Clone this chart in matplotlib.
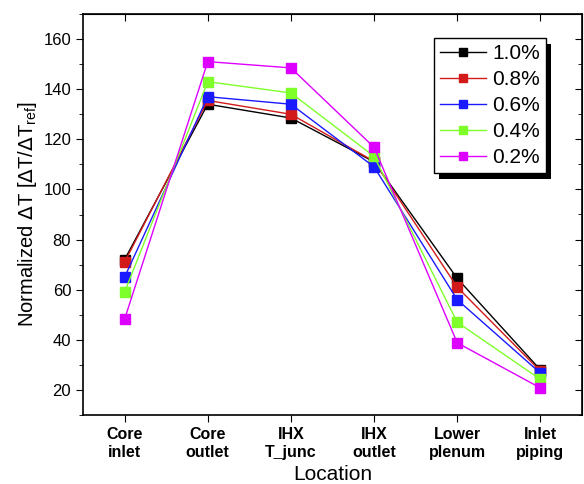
import matplotlib
matplotlib.use("Agg")
import matplotlib.pyplot as plt
from matplotlib.ticker import MultipleLocator
from matplotlib.patches import Rectangle

plt.rcParams['font.family'] = ['Liberation Sans', 'DejaVu Sans']

locations = ["Core\ninlet", "Core\noutlet", "IHX\nT_junc", "IHX\noutlet", "Lower\nplenum", "Inlet\npiping"]
series_labels = ["1.0%", "0.8%", "0.6%", "0.4%", "0.2%"]
vals_10 = [72, 134, 128.5, 111, 64.5, 28]
vals_08 = [71, 135.5, 130, 111.2, 61, 27.5]
vals_06 = [65, 137, 134, 109, 56, 26.7]
vals_04 = [59, 143, 138.5, 113.2, 47, 24.2]
vals_02 = [48.2, 151, 148.5, 116.8, 38.8, 20.8]
series = [vals_10, vals_08, vals_06, vals_04, vals_02]
colors = ["#000000", "#d21a1a", "#1a1aff", "#7fff2a", "#dd00ff"]

fig = plt.figure(figsize=(5.84, 4.84), dpi=100)
ax = fig.add_axes([83/584, 1 - 415/484, (582-83)/584, (415-14)/484])

x = list(range(len(locations)))
for vals, lab, c in zip(series, series_labels, colors):
    ax.plot(x, vals, '-', color=c, lw=1.0, marker='s', markersize=6.5,
            markerfacecolor=c, markeredgecolor=c, label=lab)

ax.set_xlim(-0.5, 5.5)
ax.set_ylim(10, 170)
ax.set_xticks(x)
ax.set_xticklabels(locations, fontsize=11.5, fontweight='bold', linespacing=1.25)
ax.yaxis.set_major_locator(MultipleLocator(20))
ax.yaxis.set_minor_locator(MultipleLocator(10))
ax.tick_params(axis='y', which='both', direction='out', left=True, right=False, labelsize=12)
ax.tick_params(axis='y', which='major', length=5)
ax.tick_params(axis='y', which='minor', length=3)
ax.tick_params(axis='x', which='major', direction='out', length=5, top=False)

# inward ticks on the top and right frame
sec_r = ax.secondary_yaxis('right')
sec_r.yaxis.set_major_locator(MultipleLocator(20))
sec_r.yaxis.set_minor_locator(MultipleLocator(10))
sec_r.tick_params(which='both', direction='in', labelright=False)
sec_r.tick_params(which='major', length=5)
sec_r.tick_params(which='minor', length=3)
sec_t = ax.secondary_xaxis('top')
sec_t.set_xticks(x)
sec_t.tick_params(direction='in', length=5, labeltop=False)

for s in ax.spines.values():
    s.set_linewidth(1.2)

ax.set_xlabel("Location", fontsize=15, labelpad=4)
ax.set_ylabel(r"Normalized $\Delta$T [$\Delta$T/$\Delta$T$_{\mathregular{ref}}$]", fontsize=14.5, labelpad=3)

leg = ax.legend(loc='upper right', bbox_to_anchor=(0.928, 0.94), borderaxespad=0,
                fontsize=15, frameon=True, fancybox=False, shadow=False,
                edgecolor='black', handlelength=2.2, handletextpad=0.3,
                labelspacing=0.33, borderpad=0.3, markerscale=0.9)
leg.get_frame().set_linewidth(1.0)
leg.get_frame().set_alpha(1.0)

# solid drop shadow behind the legend frame
fig.canvas.draw()
bb = leg.get_frame().get_window_extent().transformed(fig.transFigure.inverted())
dx, dy = 5 / 584, -6 / 484
shadow = Rectangle((bb.x0 + dx, bb.y0 + dy), bb.width, bb.height,
                   transform=fig.transFigure, facecolor='black', edgecolor='none',
                   zorder=4.9, clip_on=False)
ax.add_patch(shadow)

fig.savefig("out.png", dpi=100)
